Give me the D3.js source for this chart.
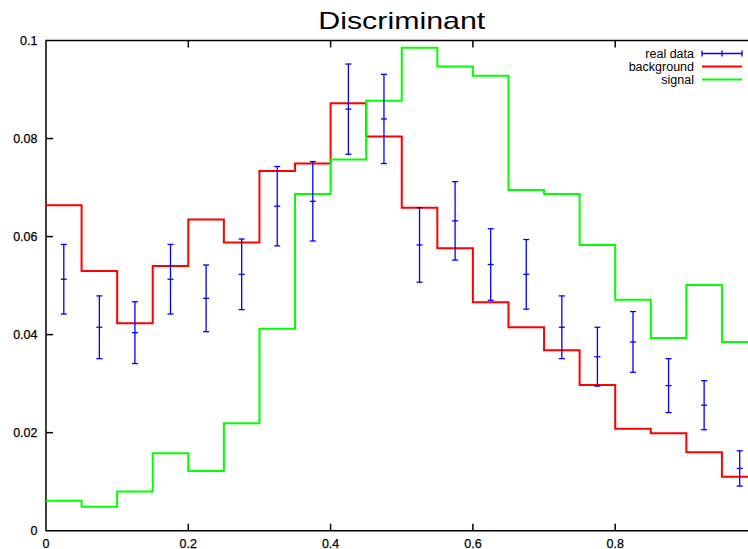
<!DOCTYPE html>
<html>
<head>
<meta charset="utf-8">
<script src="https://cdn.jsdelivr.net/npm/d3@7"></script>
<style>
  body { margin: 0; background: #fff; }
  svg { display: block; font-family: "Liberation Sans", Arial, sans-serif; }
  .lab { stroke: #000; stroke-width: 0.25; }
</style>
</head>
<body>
<div id="chart"></div>
<script>
var svgWidth = 748;
var svgHeight = 549;

// bin centres of the 20 histogram bins (width 0.05)
var binCenters = [0.025, 0.075, 0.125, 0.175, 0.225, 0.275, 0.325, 0.375, 0.425, 0.475,
                  0.525, 0.575, 0.625, 0.675, 0.725, 0.775, 0.825, 0.875, 0.925, 0.975];
var binWidth = 0.05;

var background = [0.0664, 0.0530, 0.0423, 0.0540, 0.0635, 0.0588, 0.0734, 0.0749, 0.0872, 0.0804,
                  0.0659, 0.0576, 0.0466, 0.0415, 0.0368, 0.0297, 0.0208, 0.0199, 0.0160, 0.0110];

var signal = [0.0061, 0.0049, 0.0080, 0.0158, 0.0122, 0.0219, 0.0412, 0.0687, 0.0757, 0.0877,
              0.0985, 0.0947, 0.0928, 0.0695, 0.0687, 0.0583, 0.0471, 0.0393, 0.0501, 0.0385];

var realData = [0.0513, 0.0415, 0.0404, 0.0513, 0.0474, 0.0523, 0.0662, 0.0672, 0.0860, 0.0840,
                0.0583, 0.0632, 0.0543, 0.0523, 0.0415, 0.0355, 0.0385, 0.0296, 0.0256, 0.0127];
var realErr = [0.0071, 0.0064, 0.0063, 0.0071, 0.0068, 0.0072, 0.0081, 0.0081, 0.0092, 0.0091,
               0.0076, 0.0080, 0.0073, 0.0071, 0.0064, 0.0060, 0.0062, 0.0055, 0.0050, 0.0036];

var xTicks = [0, 0.2, 0.4, 0.6, 0.8];
var yTicks = [0, 0.02, 0.04, 0.06, 0.08, 0.1];

var legendNames = ["real data", "background", "signal"];
var legendColors = ["#0000ff", "#ff0000", "#00ff00"];

// plot area (right edge falls outside the window, as in the original)
var plot = { left: 46, right: 757.5, top: 40.5, bottom: 530.7 };

var svg = d3.select("#chart")
  .append("svg")
  .attr("width", svgWidth)
  .attr("height", svgHeight);

var x = d3.scaleLinear().domain([0, 1]).range([plot.left, plot.right]);
var y = d3.scaleLinear().domain([0, 0.1]).range([plot.bottom, plot.top]);

// title
svg.append("text")
  .attr("x", (plot.left + plot.right) / 2)
  .attr("y", 28.7)
  .attr("text-anchor", "middle")
  .attr("font-size", 24)
  .attr("textLength", 167)
  .attr("lengthAdjust", "spacingAndGlyphs")
  .text("Discriminant");

// axes frame
var axisG = svg.append("g").attr("stroke", "#000").attr("stroke-width", 1.5).attr("fill", "none");
axisG.append("path")
  .attr("d", `M${plot.right},${plot.top}H${plot.left}V${plot.bottom}H${plot.right}`);

// y ticks
axisG.selectAll(".ytick")
  .data(yTicks.slice(1, -1))
  .enter()
  .append("line")
  .attr("x1", plot.left).attr("x2", plot.left + 7)
  .attr("y1", d => y(d)).attr("y2", d => y(d));

// x ticks bottom + mirrored top
axisG.selectAll(".xtick")
  .data(xTicks.slice(1))
  .enter()
  .append("line")
  .attr("x1", d => x(d)).attr("x2", d => x(d))
  .attr("y1", plot.bottom).attr("y2", plot.bottom - 7);

axisG.selectAll(".xtickTop")
  .data(xTicks.slice(1))
  .enter()
  .append("line")
  .attr("x1", d => x(d)).attr("x2", d => x(d))
  .attr("y1", plot.top).attr("y2", plot.top + 7);

// tick labels
svg.selectAll(".ylab")
  .data(yTicks)
  .enter()
  .append("text")
  .attr("class", "lab")
  .attr("x", 37.5)
  .attr("y", d => y(d) + 4.5)
  .attr("text-anchor", "end")
  .attr("font-size", 12.5)
  .text(d => d3.format("")(d));

svg.selectAll(".xlab")
  .data(xTicks)
  .enter()
  .append("text")
  .attr("class", "lab")
  .attr("x", d => x(d))
  .attr("y", 547.5)
  .attr("text-anchor", "middle")
  .attr("font-size", 12.5)
  .text(d => d3.format("")(d));

// histogram step lines
function stepPoints(vals) {
  var pts = binCenters.map((c, i) => [c - binWidth / 2, vals[i]]);
  pts.push([binCenters[binCenters.length - 1] + binWidth / 2, vals[vals.length - 1]]);
  return pts;
}

var stepLine = d3.line()
  .x(d => x(d[0]))
  .y(d => y(d[1]))
  .curve(d3.curveStepAfter);

svg.append("path")
  .datum(stepPoints(background))
  .attr("fill", "none")
  .attr("stroke", "#ff0000")
  .attr("stroke-width", 2)
  .attr("d", stepLine);

svg.append("path")
  .datum(stepPoints(signal))
  .attr("fill", "none")
  .attr("stroke", "#00ff00")
  .attr("stroke-width", 2)
  .attr("d", stepLine);

// real data with error bars
var pts = svg.append("g")
  .attr("stroke", "#0000ff")
  .attr("stroke-width", 1.3)
  .selectAll("g")
  .data(binCenters.map((c, i) => ({ x: c, v: realData[i], e: realErr[i] })))
  .enter()
  .append("g");

pts.append("line")
  .attr("x1", d => x(d.x)).attr("x2", d => x(d.x))
  .attr("y1", d => y(d.v + d.e)).attr("y2", d => y(d.v - d.e));
pts.append("line")
  .attr("x1", d => x(d.x) - 3).attr("x2", d => x(d.x) + 3)
  .attr("y1", d => y(d.v + d.e)).attr("y2", d => y(d.v + d.e));
pts.append("line")
  .attr("x1", d => x(d.x) - 3).attr("x2", d => x(d.x) + 3)
  .attr("y1", d => y(d.v - d.e)).attr("y2", d => y(d.v - d.e));
pts.append("line")
  .attr("x1", d => x(d.x) - 3).attr("x2", d => x(d.x) + 3)
  .attr("y1", d => y(d.v)).attr("y2", d => y(d.v));

// legend
var legend = svg.append("g").attr("transform", "translate(0, 53.5)");
legendNames.forEach((name, i) => {
  var row = legend.append("g").attr("transform", `translate(0, ${i * 13})`);
  row.append("text")
    .attr("x", 694)
    .attr("y", 4.5)
    .attr("text-anchor", "end")
    .attr("font-size", 12.5)
    .text(name);
  row.append("line")
    .attr("x1", 702).attr("x2", 742)
    .attr("y1", 0).attr("y2", 0)
    .attr("stroke", legendColors[i])
    .attr("stroke-width", i === 0 ? 1.3 : 2);
  if (i === 0) {
    [702, 722, 742].forEach(px => {
      row.append("line")
        .attr("x1", px).attr("x2", px)
        .attr("y1", -3).attr("y2", 3)
        .attr("stroke", legendColors[i])
        .attr("stroke-width", 1.3);
    });
  }
});
</script>
</body>
</html>
